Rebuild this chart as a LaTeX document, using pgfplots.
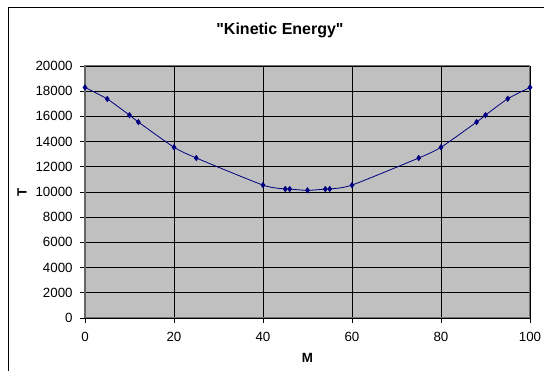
\documentclass[border=0pt]{standalone}
\usepackage{pgfplots}
\pgfplotsset{compat=1.18}
\usepackage{fontspec}
\setmainfont{Liberation Sans}
\newfontfamily\plainfont{Liberation Sans}
\definecolor{plotbg}{HTML}{C0C0C0}
\definecolor{navyline}{HTML}{000080}
\begin{document}
\begin{tikzpicture}
\useasboundingbox (0,0) rectangle (408pt,278.25pt);
\fill[white] (0,0) rectangle (408pt,278.25pt);
\draw[black, line width=0.75pt] (6pt,-2pt) -- (6pt,272.25pt) -- (410pt,272.25pt);
\node[font=\plainfont\fontsize{12}{14}\selectfont\bfseries] at (210pt,255.5pt) {"Kinetic Energy"};
\begin{axis}[
  at={(63.75pt,39.75pt)}, anchor=south west,
  scale only axis, width=333.75pt, height=189pt,
  xmin=0, xmax=100, ymin=0, ymax=20000,
  xtick={0,20,40,60,80,100},
  ytick={0,2000,4000,6000,8000,10000,12000,14000,16000,18000,20000},
  scaled y ticks=false,
  /pgf/number format/assume math mode=true,
  /pgf/number format/set thousands separator={},
  tick label style={font=\fontsize{10}{12}\selectfont},
  xticklabel style={yshift=-3pt},
  yticklabel style={xshift=-2pt},
  xtick pos=bottom, ytick pos=left,
  tick align=outside, major tick length=3.75pt,
  tick style={black, line width=0.6pt},
  grid=major, major grid style={black, line width=0.6pt},
  axis background/.style={fill=plotbg},
  axis line style={draw=black!55, line width=0.75pt},
  xlabel={M}, ylabel={T},
  label style={font=\fontsize{10}{12}\selectfont\bfseries},
  xlabel style={at={(axis description cs:0.5,0)}, anchor=center, yshift=-30pt},
  ylabel style={at={(axis description cs:0,0.5)}, anchor=center, yshift=47.25pt},
  clip=false,
]
\addplot[color=navyline, line width=0.6pt, smooth, tension=0.4, mark=diamond*, mark size=1.9pt, mark options={fill=navyline, draw=navyline}]
coordinates {
(0,18300) (5,17380) (10,16100) (12,15550) (20,13550) (25,12700)
(40,10550) (45,10240) (46,10230) (50,10130) (54,10230) (55,10240)
(60,10550) (75,12700) (80,13550) (88,15550) (90,16100) (95,17400) (100,18300)
};
\draw[black!60, line width=1.4pt] (axis cs:0,0) -- (axis cs:0,20000);
\draw[black, line width=0.7pt] (axis cs:0,0) -- (axis cs:100,0);
\end{axis}
\end{tikzpicture}
\end{document}
